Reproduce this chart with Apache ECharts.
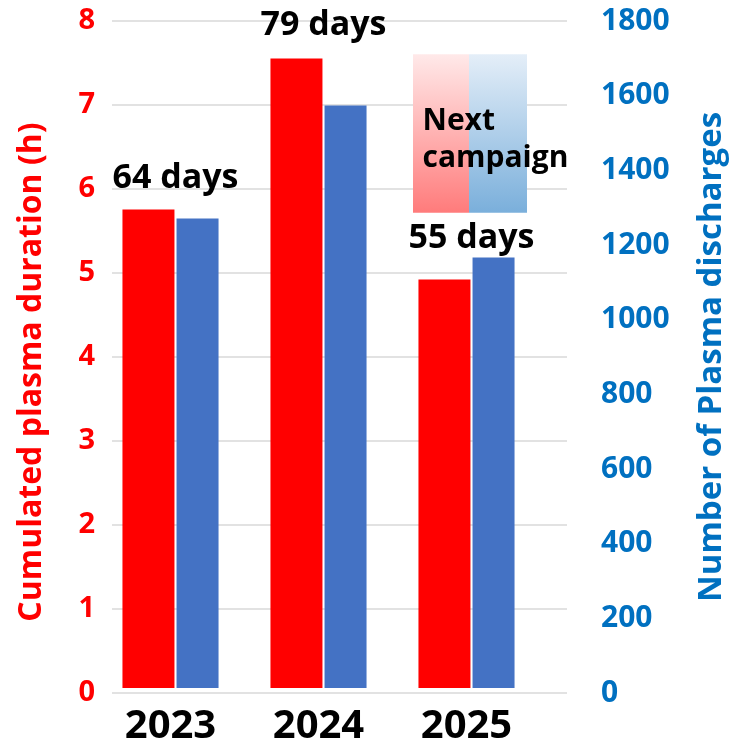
<!DOCTYPE html>
<html>
<head>
<meta charset="utf-8">
<script src="https://cdn.jsdelivr.net/npm/echarts@6/dist/echarts.min.js"></script>
<style>
  html, body { margin: 0; padding: 0; background: #fff; }
  #chart { width: 736px; height: 747px; }
</style>
</head>
<body>
<div id="chart"></div>
<script>
// data
const years = ['2023', '2024', '2025'];
const durationHours = [5.74, 7.55, 4.90];        // left axis (h)
const dischargeCounts = [1267, 1572, 1162];      // right axis
const campaignDays = ['64 days', '79 days', '55 days'];
const dayLabelLevels = [6.11, 7.95, 5.39];       // left axis units
const nextCampaignYear = 2;
const nextCampaignRange = [5.70, 7.60];          // left axis units

const FONT = '"Open Sans", "Liberation Sans", sans-serif';
const RED = '#ff0000';
const BLUE = '#4472c4';
const AXIS_BLUE = '#0070c0';

const chart = echarts.init(document.getElementById('chart'));

const redGrad = new echarts.graphic.LinearGradient(0, 0, 0, 1, [
    { offset: 0, color: '#ffe9e9' },
    { offset: 1, color: '#ff7b7b' }
]);
const blueGrad = new echarts.graphic.LinearGradient(0, 0, 0, 1, [
    { offset: 0, color: '#e4eef8' },
    { offset: 1, color: '#7aafdb' }
]);

const option = {
    animation: false,
    textStyle: { fontFamily: FONT },
    grid: [
        // axes + gridlines
        { left: 112, right: 168, top: 21, bottom: 54 },
        // bars (Excel places groups slightly left)
        { left: 96.5, right: 195.5, top: 21, bottom: 54 }
    ],
    xAxis: [
        { type: 'category', gridIndex: 0, data: years, show: false },
        {
            type: 'category', gridIndex: 1, data: years,
            axisLine: { show: false },
            axisTick: { show: false },
            axisLabel: {
                color: '#000', fontSize: 40, fontWeight: 'bold',
                fontFamily: FONT, margin: 19
            }
        }
    ],
    yAxis: [
        {
            type: 'value', gridIndex: 0, position: 'left',
            min: 0, max: 8, interval: 1,
            name: 'Cumulated plasma duration (h)',
            nameLocation: 'middle', nameRotate: 90, nameGap: 64,
            nameTextStyle: {
                color: RED, fontSize: 32, fontWeight: 'bold', fontFamily: FONT,
                padding: [0, 30, 0, 0]
            },
            axisLine: { show: false },
            axisTick: { show: false },
            axisLabel: { color: RED, fontSize: 29, fontWeight: 'bold', fontFamily: FONT, margin: 17 },
            splitLine: { lineStyle: { color: '#d9d9d9', width: 1.5 } }
        },
        {
            type: 'value', gridIndex: 0, position: 'right',
            min: 0, max: 1800, interval: 200,
            name: 'Number of Plasma discharges',
            nameLocation: 'middle', nameRotate: 90, nameGap: 128,
            nameTextStyle: { color: AXIS_BLUE, fontSize: 33, fontWeight: 'bold', fontFamily: FONT },
            axisLine: { show: false },
            axisTick: { show: false },
            axisLabel: {
                color: AXIS_BLUE, fontSize: 30, fontWeight: 'bold', fontFamily: FONT, margin: 34,
                formatter: v => String(v)
            },
            splitLine: { show: false }
        },
        { type: 'value', gridIndex: 1, min: 0, max: 8, show: false },
        { type: 'value', gridIndex: 1, min: 0, max: 1800, show: false }
    ],
    series: [
        {
            name: 'Cumulated plasma duration',
            type: 'bar', xAxisIndex: 1, yAxisIndex: 2,
            data: durationHours,
            barWidth: 52, barGap: '4%',
            itemStyle: { color: RED }
        },
        {
            name: 'Number of Plasma discharges',
            type: 'bar', xAxisIndex: 1, yAxisIndex: 3,
            data: dischargeCounts,
            barWidth: 42, barGap: '4%',
            itemStyle: { color: BLUE }
        },
        {
            name: 'Campaign length',
            type: 'scatter', xAxisIndex: 1, yAxisIndex: 2,
            symbolSize: 0,
            itemStyle: { opacity: 1 },
            data: dayLabelLevels.map((v, i) => [i, v]),
            label: {
                show: true, position: 'inside', offset: [5, 0],
                formatter: p => campaignDays[p.dataIndex],
                color: '#000', fontSize: 34, fontWeight: 'bold', fontFamily: FONT
            },
            z: 5
        },
        {
            name: 'Next campaign',
            type: 'custom', xAxisIndex: 1, yAxisIndex: 2,
            data: [[nextCampaignYear, nextCampaignRange[0], nextCampaignRange[1]]],
            renderItem: function (params, api) {
                const bottom = api.coord([api.value(0), api.value(1)]);
                const top = api.coord([api.value(0), api.value(2)]);
                const cx = bottom[0];
                const h = bottom[1] - top[1];
                return {
                    type: 'group',
                    children: [
                        { type: 'rect', shape: { x: cx - 53.5, y: top[1], width: 56, height: h }, style: { fill: redGrad } },
                        { type: 'rect', shape: { x: cx + 2.5, y: top[1], width: 58, height: h }, style: { fill: blueGrad } },
                        {
                            type: 'text',
                            style: {
                                text: 'Next\ncampaign', x: cx - 44, y: top[1] + 49,
                                fill: '#000', font: 'bold 30px ' + FONT, lineHeight: 37,
                                verticalAlign: 'top', align: 'left'
                            }
                        }
                    ]
                };
            },
            z: 4
        }
    ]
};

chart.setOption(option);
</script>
</body>
</html>
